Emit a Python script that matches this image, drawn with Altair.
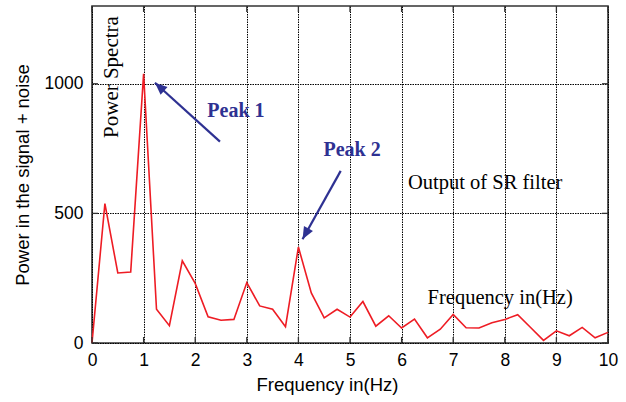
import altair as alt
import pandas as pd

# Power spectrum samples (0.25 Hz spacing)
freq = [i * 0.25 for i in range(41)]
power = [0, 538, 270, 274, 1038, 130, 67, 317, 230, 101, 88, 91, 233, 143, 130, 63,
         370, 193, 97, 130, 100, 160, 65, 105, 58, 92, 20, 53, 110, 59, 58, 78,
         91, 109, 60, 10, 47, 28, 60, 20, 41]

x_ticks = list(range(11))
y_ticks = [0, 500, 1000]

# Annotation arrows: tail and head in data units, plus head direction (degrees)
arrow_x = [2.48, 4.82]
arrow_y = [777, 664]
arrow_x2 = [1.22, 4.08]
arrow_y2 = [1004, 400]
arrow_angle = [312, 209]

# Free text placed on the plot
note_text = ["Peak 1", "Peak 2"]
note_x = [2.79, 5.04]
note_y = [895, 745]

serif_text = ["Output of SR filter", "Frequency in(Hz)"]
serif_x = [7.62, 7.91]
serif_y = [617, 174]

BLUE = "#2e3192"
RED = "#ee1c24"
FRAME = "#333333"

W, H = 516, 337
TICK = 6
xs = alt.Scale(domain=[0, 10], nice=False, zero=False)
ys = alt.Scale(domain=[0, 1300], nice=False)

spec = pd.DataFrame({"f": freq, "p": power})
arrows = pd.DataFrame({"x": arrow_x, "y": arrow_y, "x2": arrow_x2,
                       "y2": arrow_y2, "a": arrow_angle})
notes = pd.DataFrame({"t": note_text, "x": note_x, "y": note_y})
serif = pd.DataFrame({"t": serif_text, "x": serif_x, "y": serif_y})
spectra_lbl = pd.DataFrame({"t": ["Power Spectra"], "x": [0.39], "y": [1026]})
xt = pd.DataFrame({"v": x_ticks})
yt = pd.DataFrame({"v": y_ticks})

line = alt.Chart(spec).mark_line(color=RED, strokeWidth=1.6).encode(
    x=alt.X("f:Q", scale=xs,
            axis=alt.Axis(title="Frequency in(Hz)", values=x_ticks,
                          grid=True, ticks=False, domain=False, labelFlush=False,
                          labelPadding=8, titlePadding=7,
                          titleX=235, titleAnchor="start", titleAlign="center")),
    y=alt.Y("p:Q", scale=ys,
            axis=alt.Axis(title="Power in the signal + noise", format="d",
                          values=y_ticks, grid=True, ticks=False, labelFlush=False,
                          domain=False, labelPadding=9, titlePadding=12)),
)

# Inward tick marks on all four sides of the frame
ticks_bottom = alt.Chart(xt).mark_rule(color=FRAME, strokeWidth=1.3).encode(
    x=alt.X("v:Q", scale=xs), y=alt.value(H), y2=alt.value(H - TICK))
ticks_top = alt.Chart(xt).mark_rule(color=FRAME, strokeWidth=1.3).encode(
    x=alt.X("v:Q", scale=xs), y=alt.value(0), y2=alt.value(TICK))
ticks_left = alt.Chart(yt).mark_rule(color=FRAME, strokeWidth=1.3).encode(
    y=alt.Y("v:Q", scale=ys), x=alt.value(0), x2=alt.value(TICK))
ticks_right = alt.Chart(yt).mark_rule(color=FRAME, strokeWidth=1.3).encode(
    y=alt.Y("v:Q", scale=ys), x=alt.value(W), x2=alt.value(W - TICK))

shafts = alt.Chart(arrows).mark_rule(color=BLUE, strokeWidth=2.2).encode(
    x=alt.X("x:Q", scale=xs), y=alt.Y("y:Q", scale=ys), x2="x2:Q", y2="y2:Q")

heads = alt.Chart(arrows).mark_point(
    shape="M0,0 L0.42,1 L-0.42,1 Z", filled=True, color=BLUE, opacity=1,
    size=600).encode(
    x=alt.X("x2:Q", scale=xs), y=alt.Y("y2:Q", scale=ys),
    angle=alt.Angle("a:Q", scale=None))

peak_text = alt.Chart(notes).mark_text(
    font="Liberation Serif", fontSize=20, fontWeight="bold", color=BLUE,
    align="center", baseline="middle").encode(
    x=alt.X("x:Q", scale=xs), y=alt.Y("y:Q", scale=ys), text="t:N")

serif_notes = alt.Chart(serif).mark_text(
    font="Liberation Serif", fontSize=20.5, color="black",
    align="center", baseline="middle").encode(
    x=alt.X("x:Q", scale=xs), y=alt.Y("y:Q", scale=ys), text="t:N")

spectra = alt.Chart(spectra_lbl).mark_text(
    font="Liberation Serif", fontSize=21, color="black", angle=270,
    align="center", baseline="middle").encode(
    x=alt.X("x:Q", scale=xs), y=alt.Y("y:Q", scale=ys), text="t:N")

chart = alt.layer(
    line, ticks_bottom, ticks_top, ticks_left, ticks_right,
    shafts, heads, peak_text, serif_notes, spectra
).properties(
    width=W, height=H,
    autosize=alt.AutoSizeParams(type="none"),
    padding={"left": 92, "top": 6, "right": 18, "bottom": 59},
    background="white",
).configure_view(
    stroke=FRAME, strokeWidth=1.6
).configure_axis(
    gridColor="black", gridDash=[1.5, 1], gridWidth=1, gridOpacity=1,
    labelFont="Liberation Sans", labelFontSize=17.5, labelColor="black",
    titleFont="Liberation Sans", titleFontSize=18.5, titleFontWeight="normal",
    titleColor="black",
)

chart.save("out.html", embed_options={"renderer": "svg", "actions": False})
